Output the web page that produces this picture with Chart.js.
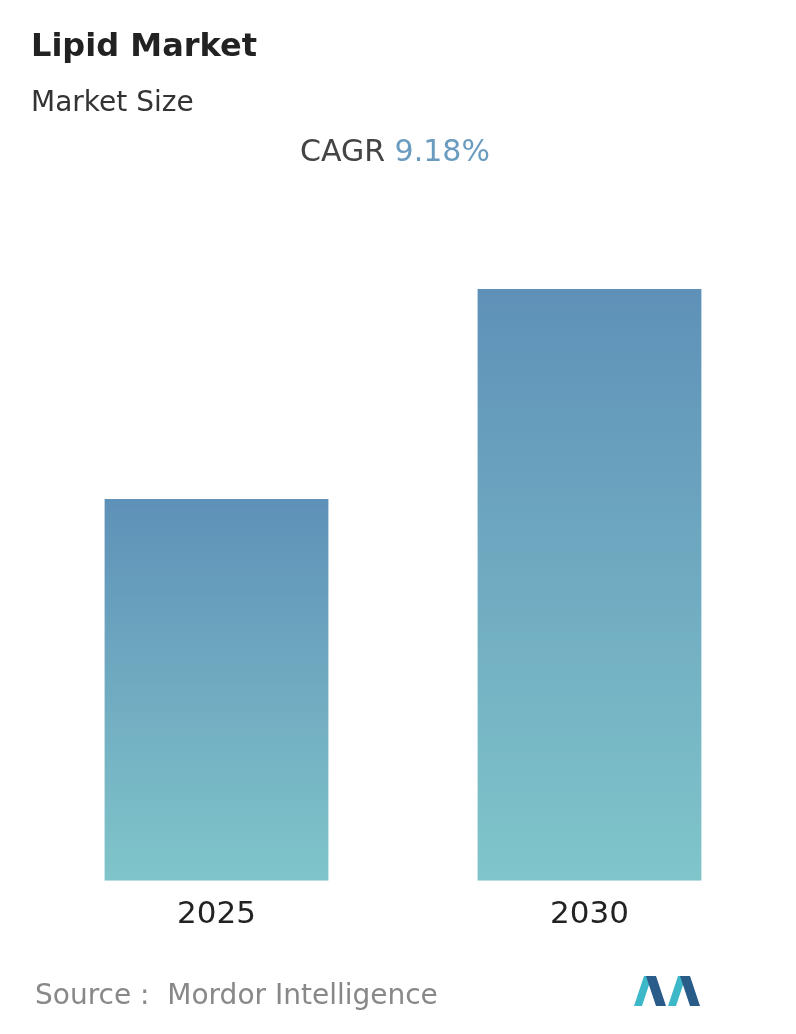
<!DOCTYPE html>
<html><head><meta charset="utf-8">
<script src="https://cdn.jsdelivr.net/npm/chart.js@4"></script>
<style>
body{margin:0;width:796px;height:1034px;background:#fff;font-family:"DejaVu Sans",sans-serif;position:relative;overflow:hidden}
#c{position:absolute;left:0;top:0}
.t{position:absolute;white-space:nowrap}
</style></head><body>
<canvas id="c" width="796" height="1034"></canvas>
<div class="t" style="left:31px;top:26px;font-size:32px;font-weight:700;color:#222">Lipid Market</div>
<div class="t" style="left:31px;top:85px;font-size:28px;color:#333">Market Size</div>
<div class="t" style="left:300px;top:133px;font-size:30px;color:#444">CAGR <span style="color:#6a9cc0">9.18%</span></div>
<div class="t" style="left:35px;top:978px;font-size:28px;color:#888">Source :&nbsp; Mordor Intelligence</div>
<svg class="t" style="left:634px;top:972px" width="68" height="36" viewBox="0 0 68 36">
<polygon points="0,34 10,4 18,4 8,34" fill="#3db8c8"/>
<polygon points="12,4 22,4 32,34 22,34" fill="#2a5c8a"/>
<polygon points="34,34 44,4 52,4 42,34" fill="#3db8c8"/>
<polygon points="46,4 56,4 66,34 56,34" fill="#2a5c8a"/>
</svg>
<script>
const categories=["2025","2030"];
const values=[1.0,1.55];
const ctx=document.getElementById('c');
new Chart(ctx,{type:'bar',data:{labels:categories,datasets:[{data:values,
backgroundColor:(c)=>{const ch=c.chart;const a=ch.chartArea;if(!a||c.raw===undefined)return '#6fa6c0';
const y=ch.scales.y;const top=y.getPixelForValue(c.raw);const g=ch.ctx.createLinearGradient(0,top,0,a.bottom);
g.addColorStop(0,'#5f91b8');g.addColorStop(1,'#80c5ca');return g;},
categoryPercentage:0.6,barPercentage:1}]},
options:{responsive:false,animation:false,events:[],
layout:{padding:{top:289,left:30,right:20,bottom:92}},
plugins:{legend:{display:false},tooltip:{enabled:false}},
scales:{x:{grid:{display:false},border:{display:false},ticks:{color:'#222',font:{size:31,family:'DejaVu Sans'},padding:8}},
y:{display:false,min:0,max:1.55}}}});
</script></body></html>
